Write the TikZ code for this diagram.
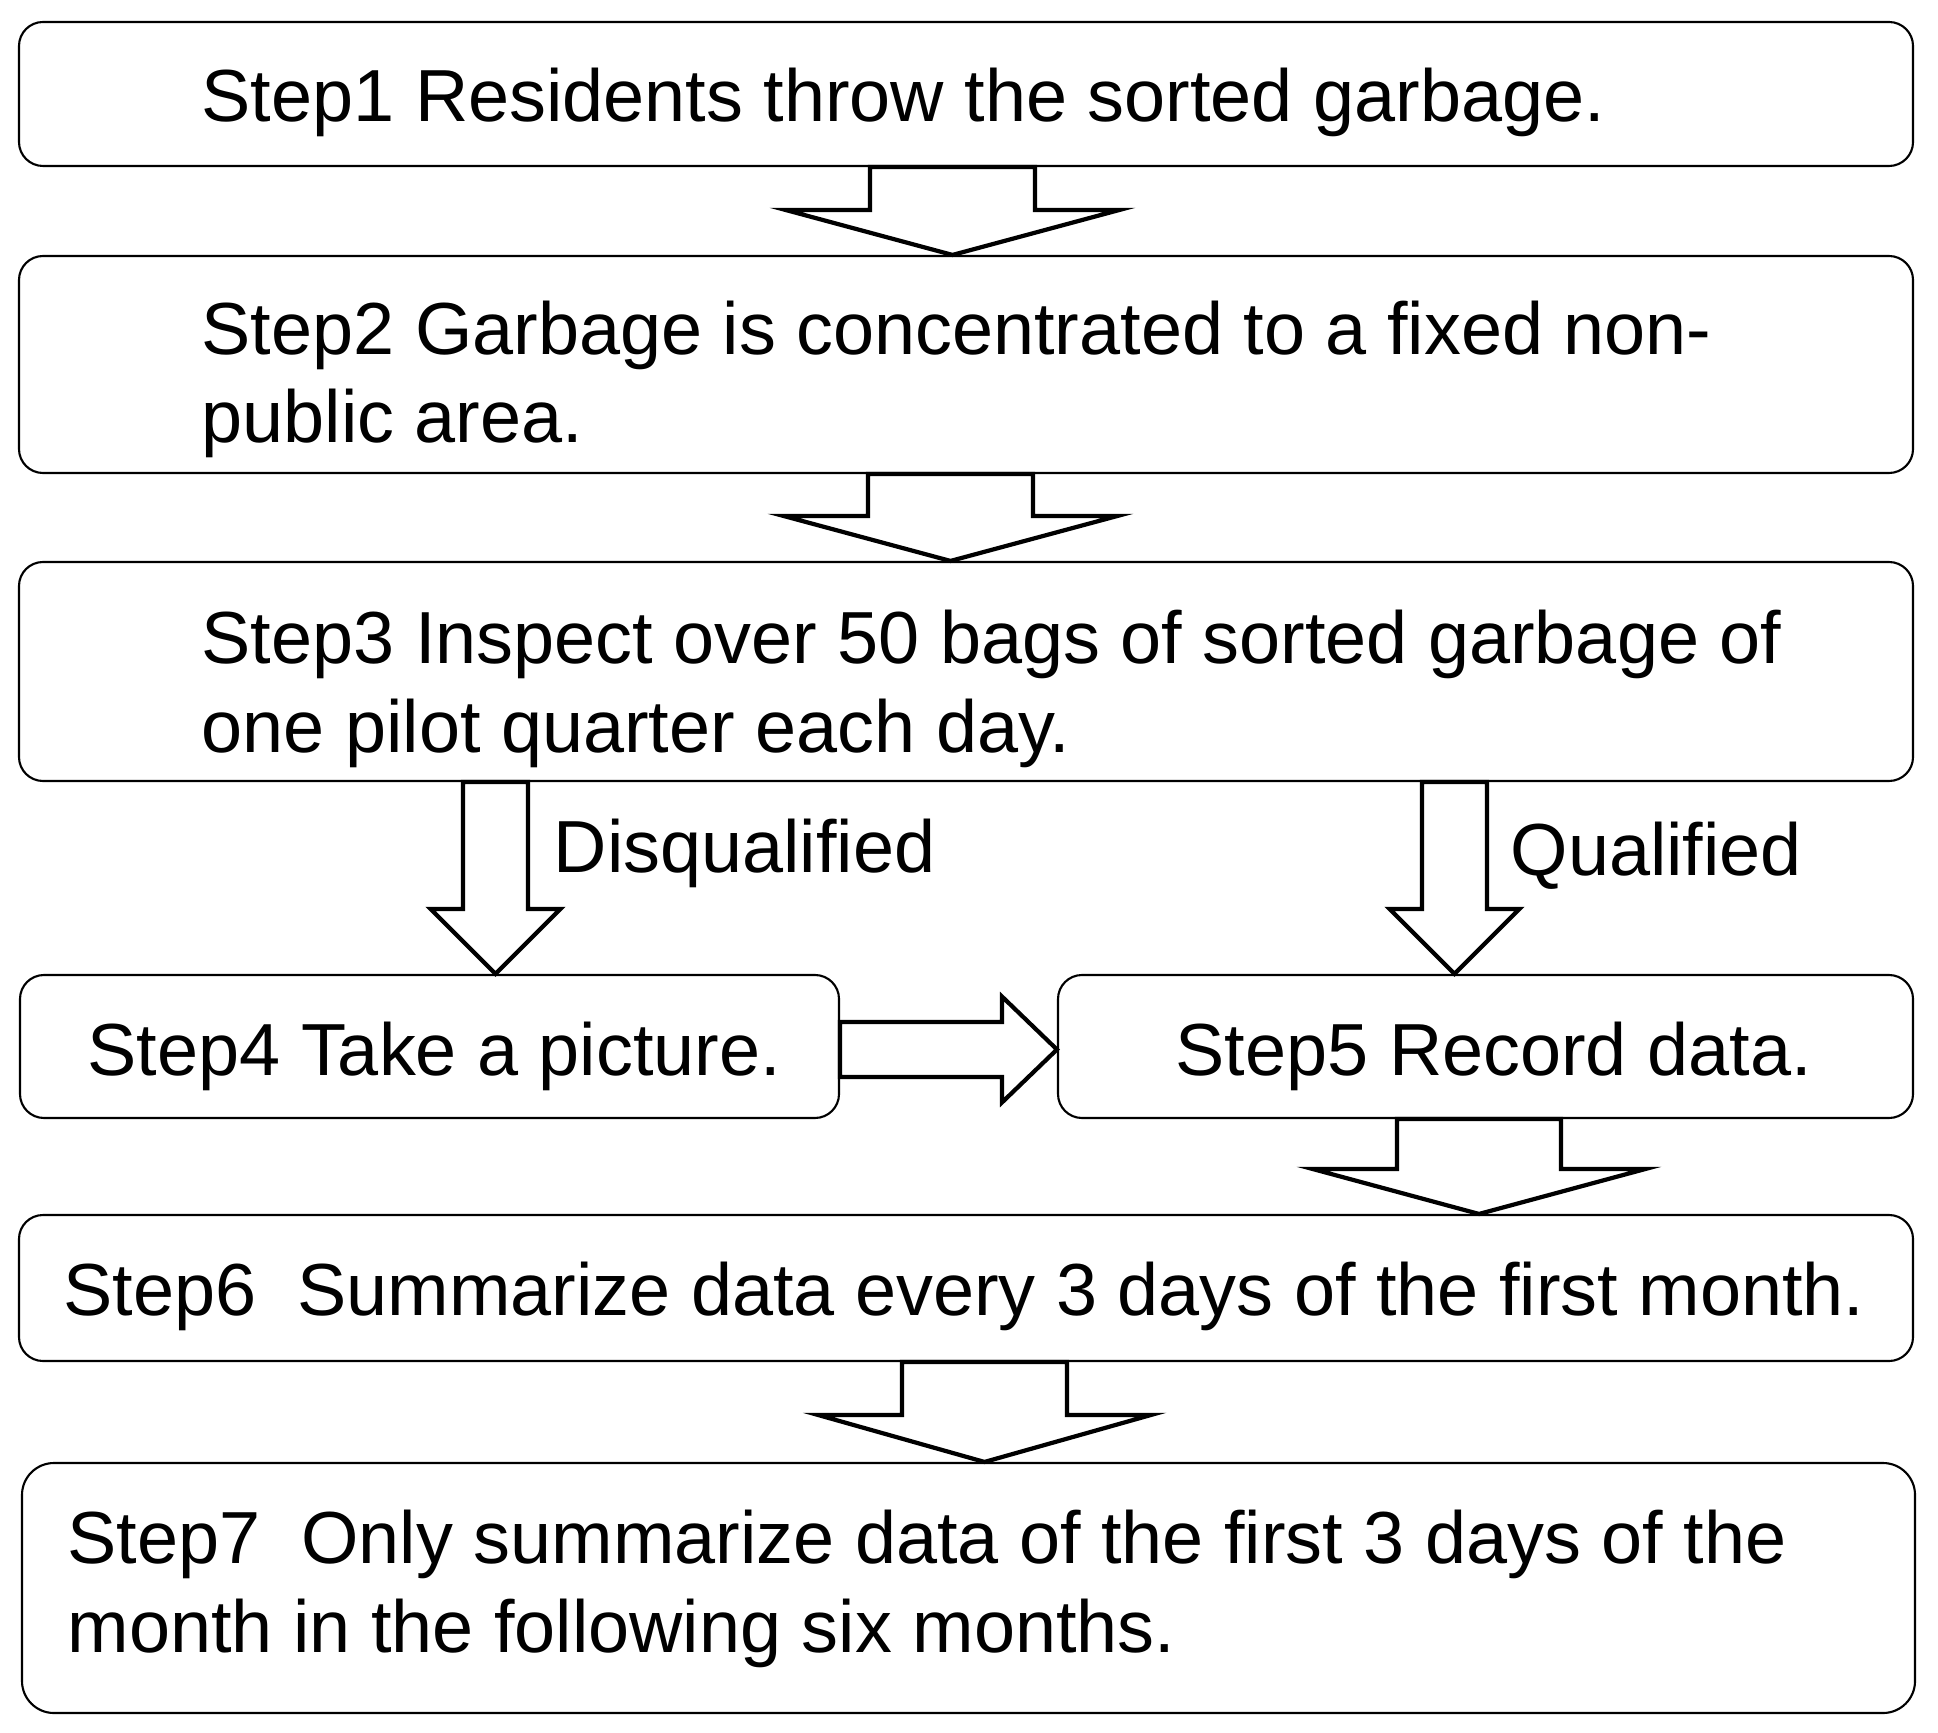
\documentclass[tikz,border=0pt]{standalone}
\usepackage{fontspec}
\setmainfont{Liberation Sans}
\usepackage{tikz}
\usetikzlibrary{calc}

% hollow block arrows: from node, to node, centre, half shaft, half head, head length
\newcommand{\downblock}[6]{%
  \draw[blockarrow] let \p1=(#1.south), \p2=(#2.north) in
    ({(#3-#4)*1cm},\y1) -- ({(#3-#4)*1cm},{\y2+#6*1cm}) -- ({(#3-#5)*1cm},{\y2+#6*1cm})
    -- ({#3*1cm},\y2) -- ({(#3+#5)*1cm},{\y2+#6*1cm}) -- ({(#3+#4)*1cm},{\y2+#6*1cm})
    -- ({(#3+#4)*1cm},\y1) -- cycle;}
\newcommand{\rightblock}[6]{%
  \draw[blockarrow] let \p1=(#1.east), \p2=(#2.west) in
    (\x1,{(#3+#4)*1cm}) -- ({\x2-#6*1cm},{(#3+#4)*1cm}) -- ({\x2-#6*1cm},{(#3+#5)*1cm})
    -- (\x2,{#3*1cm}) -- ({\x2-#6*1cm},{(#3-#5)*1cm}) -- ({\x2-#6*1cm},{(#3-#4)*1cm})
    -- (\x1,{(#3-#4)*1cm}) -- cycle;}

\begin{document}
\begin{tikzpicture}[
        stepbox/.style={draw, line width=0.6pt, rounded corners=0.24cm, inner sep=0pt},
        steptext/.style={anchor=base west, inner sep=0pt, align=left, font=\fontsize{21}{25.1}\selectfont},
        blockarrow/.style={draw, fill=white, line width=1.2pt, line join=miter}
    ]
    \useasboundingbox (0,0) rectangle (19.38,-17.33);

    % Steps 1 to 3
    \node[stepbox, minimum width=18.94cm, minimum height=1.44cm] (throw) at (9.66,-0.94) {};
    \node[steptext] (throwtext) at (2.01,-1.22) {Step1 Residents throw the sorted garbage.};

    \node[stepbox, minimum width=18.94cm, minimum height=2.17cm] (collect) at (9.66,-3.645) {};
    \node[steptext] (collecttext) at (2.01,-4.43) {Step2 Garbage is concentrated to a fixed non-\\public area.};

    \node[stepbox, minimum width=18.94cm, minimum height=2.19cm] (inspect) at (9.66,-6.715) {};
    \node[steptext] (inspecttext) at (2.01,-7.52) {Step3 Inspect over 50 bags of sorted garbage of\\one pilot quarter each day.};

    % Branches
    \node[stepbox, minimum width=8.19cm, minimum height=1.43cm] (photo) at (4.295,-10.465) {};
    \node[steptext] (phototext) at (0.87,-10.75) {Step4 Take a picture.};

    \node[stepbox, minimum width=8.55cm, minimum height=1.43cm] (record) at (14.855,-10.465) {};
    \node[steptext] (recordtext) at (11.75,-10.75) {Step5 Record data.};

    \node[steptext] (disq) at (5.53,-8.72) {Disqualified};
    \node[steptext] (qual) at (15.10,-8.75) {Qualified};

    % Summaries
    \node[stepbox, minimum width=18.94cm, minimum height=1.46cm] (summary) at (9.66,-12.88) {};
    \node[steptext] (summarytext) at (0.63,-13.15) {Step6\ \ Summarize data every 3 days of the first month.};

    \node[stepbox, minimum width=18.93cm, minimum height=2.50cm, rounded corners=0.32cm] (later) at (9.685,-15.88) {};
    \node[steptext] (latertext) at (0.67,-16.52) {Step7\ \ Only summarize data of the first 3 days of the\\month in the following six months.};

    % Block arrows
    \downblock{throw}{collect}{9.525}{0.825}{1.67}{0.45}
    \downblock{collect}{inspect}{9.505}{0.825}{1.67}{0.45}
    \downblock{inspect}{photo}{4.955}{0.325}{0.65}{0.65}
    \downblock{inspect}{record}{14.545}{0.325}{0.65}{0.65}
    \rightblock{photo}{record}{-10.495}{0.275}{0.53}{0.55}
    \downblock{record}{summary}{14.79}{0.82}{1.665}{0.45}
    \downblock{summary}{later}{9.845}{0.825}{1.665}{0.47}

\end{tikzpicture}
\end{document}
